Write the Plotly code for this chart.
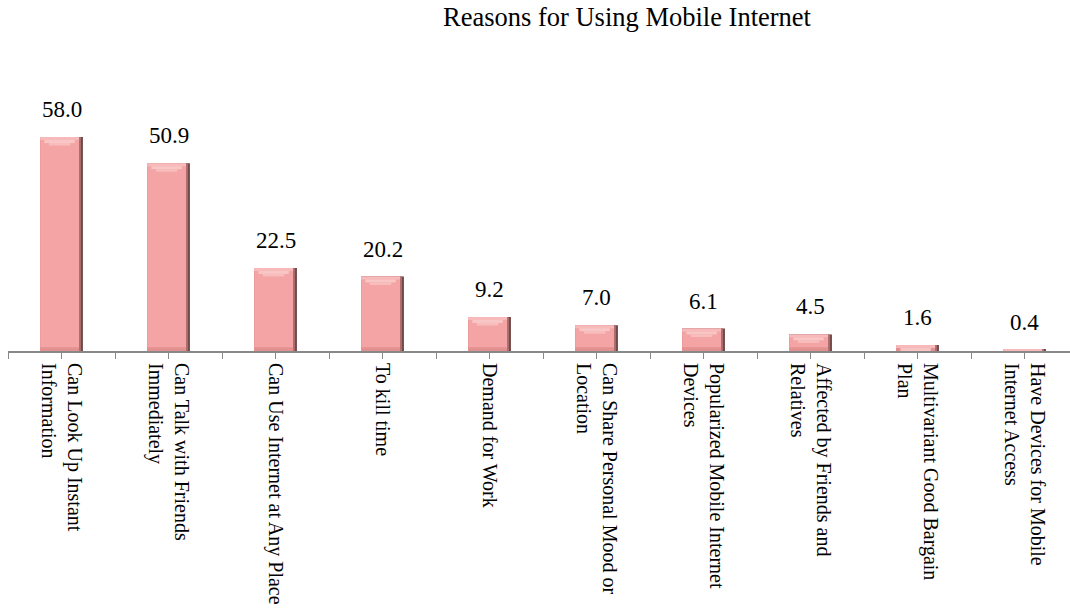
import plotly.graph_objects as go

# Survey results: reasons for using mobile internet (%)
categories = [
    "Can Look Up Instant<br>Information",
    "Can Talk with Friends<br>Immediately",
    "Can Use Internet at Any Place",
    "To kill time",
    "Demand for Work",
    "Can Share Personal Mood or<br>Location",
    "Popularized Mobile Internet<br>Devices",
    "Affected by Friends and<br>Relatives",
    "Multivariant Good Bargain<br>Plan",
    "Have Devices for Mobile<br>Internet Access",
]
values = [58.0, 50.9, 22.5, 20.2, 9.2, 7.0, 6.1, 4.5, 1.6, 0.4]

FONT = "Liberation Serif, Times New Roman, serif"
x = list(range(len(values)))
BAR_W = 0.40
LEFT = -BAR_W / 2
FACE_W = BAR_W * 0.91

fig = go.Figure()


def layer(width, color, y, base=None, offset=LEFT):
    fig.add_trace(go.Bar(
        x=x, y=y, base=base, width=width, offset=offset,
        marker=dict(color=color, line=dict(width=0)),
        hoverinfo="skip", showlegend=False,
    ))


def band(top_from, depth, frac, color):
    """A light strip under each bar's top, `frac` of the face width, centred on the face."""
    h, b = [], []
    for v in values:
        hi = max(v - top_from, 0)
        lo = max(v - top_from - depth, 0)
        h.append(hi - lo)
        b.append(lo)
    w = FACE_W * frac
    layer(w, color, h, base=b, offset=LEFT + (FACE_W - w) / 2)


# bevelled bar: dark right edge, mid shade, face
layer(BAR_W, "#6A4242", values)
layer(BAR_W * 0.96, "#A86C6C", values)
layer(FACE_W, "#F4A4A4", values)
# bottom bevel, slightly darker
bot_h = [min(v, 1.0) for v in values]
layer(FACE_W, "#E39090", bot_h, base=[0] * len(values))
# top bevel, narrowing downwards like a trapezoid
band(0.0, 0.8, 1.0, "#F7B9B9")
band(0.8, 0.8, 0.78, "#F9C6C6")
band(1.6, 0.7, 0.55, "#F8BDBD")

# value labels above each bar
for xi, v in zip(x, values):
    fig.add_annotation(
        x=xi, y=v, text=f"{v:.1f}", showarrow=False,
        yanchor="bottom", yshift=13,
        font=dict(family=FONT, size=23, color="#000000"),
    )

# ticks at category centres and boundaries; labels only at centres
tickvals, ticktext = [], []
for i, c in enumerate(categories):
    tickvals += [i - 0.5, i]
    ticktext += ["", c]
tickvals.append(len(categories) - 0.5)
ticktext.append("")

fig.update_layout(
    width=1070, height=611,
    margin=dict(l=8, r=0, t=60, b=260),
    paper_bgcolor="white", plot_bgcolor="white",
    barmode="overlay",
    title=dict(
        text="Reasons for Using Mobile Internet",
        x=627 / 1070, xanchor="center", y=1 - 17 / 611, yanchor="middle",
        xref="container", yref="container",
        font=dict(family=FONT, size=26.5, color="#000000"),
    ),
    xaxis=dict(
        range=[-0.5, 9.425], tickmode="array",
        tickvals=tickvals, ticktext=ticktext, tickangle=90,
        ticks="outside", ticklen=6, tickwidth=1, tickcolor="#888888",
        showline=True, linecolor="#888888", linewidth=2,
        showgrid=False, zeroline=False,
        tickfont=dict(family=FONT, size=20, color="#000000"),
    ),
    yaxis=dict(range=[0, 78.9], visible=False, showgrid=False, zeroline=False),
)

fig.write_html("out.html")
